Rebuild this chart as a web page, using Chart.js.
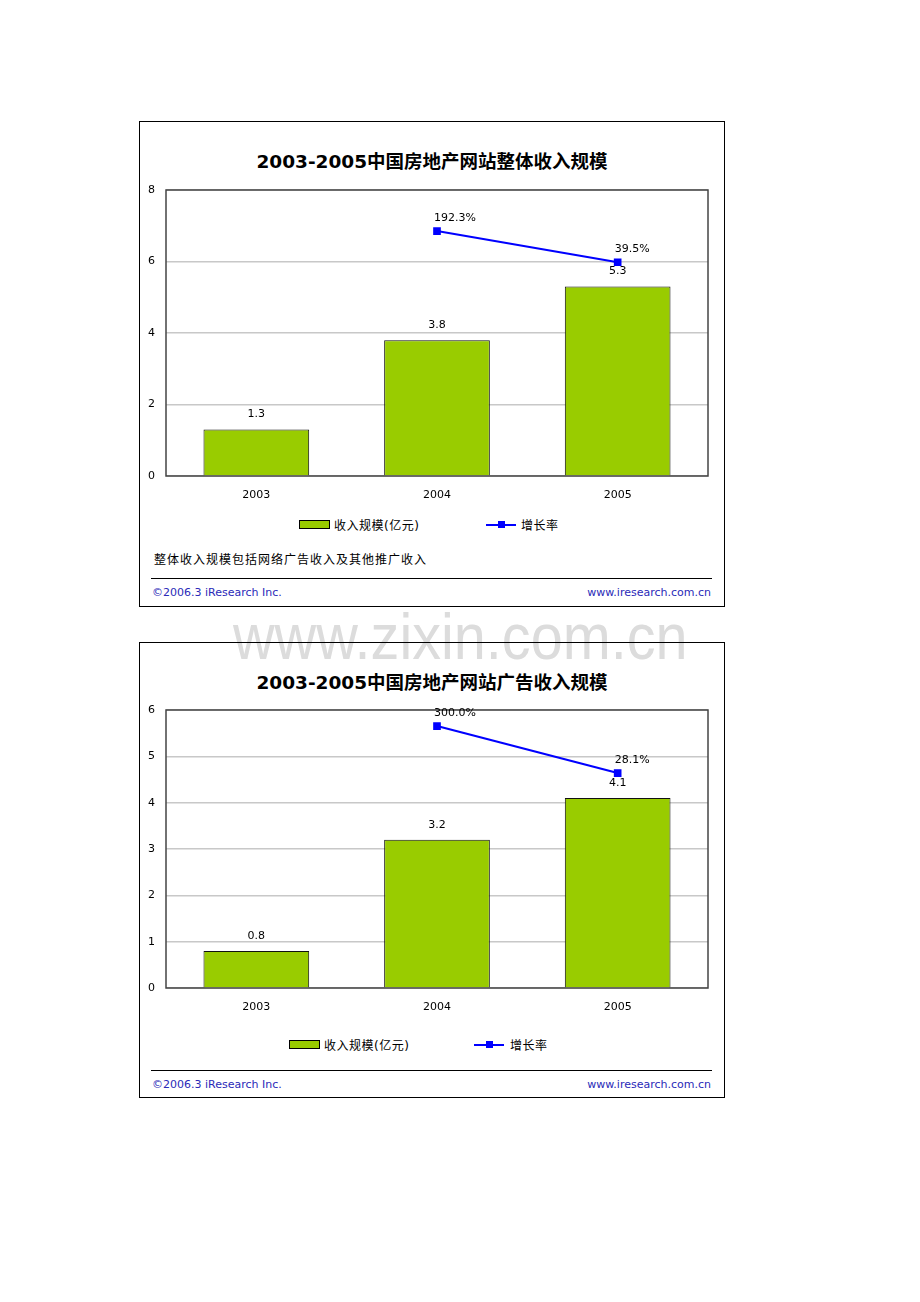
<!DOCTYPE html>
<html>
<head>
<meta charset="utf-8">
<script src="https://cdn.jsdelivr.net/npm/chart.js@4.4.1/dist/chart.umd.min.js"></script>
<style>
  body { margin: 0; background: #fff; width: 920px; height: 1302px; position: relative; overflow: hidden;
         font-family: "DejaVu Sans", "Noto Sans CJK SC", sans-serif; }
  .frame { position: absolute; left: 139px; width: 584px; border: 1px solid #000; z-index: 1; }
  .title { position: absolute; left: 0; width: 100%; text-align: center; font-weight: bold; font-size: 18.5px;
           color: #000; }
  canvas { position: absolute; }
  .lg { position: absolute; font-size: 12px; color: #000; letter-spacing: 0.5px; }
  .lgbox { position: absolute; width: 29px; height: 7px; background: #99cc00; border: 1px solid #000; }
  .lgline { position: absolute; width: 30px; height: 2px; background: #0000ff; }
  .lgline i { position: absolute; left: 12px; top: -3px; width: 7px; height: 7px; background: #0000ff; }
  .note { position: absolute; font-size: 12px; letter-spacing: 1px; }
  .rule { position: absolute; left: 11px; width: 561px; height: 1px; background: #000; }
  .foot { position: absolute; font-size: 11px; color: #2a2ab8; }
  .wm { position: absolute; left: 233px; top: 600px; font-family: "Liberation Sans", sans-serif; font-size: 64px;
        color: #dcdcdc; transform: scaleX(0.9); transform-origin: left top; z-index: 0; white-space: nowrap; }
</style>
</head>
<body>
<div class="wm">www.zixin.com.cn</div>

<div class="frame" style="top:121px;height:484px;">
  <div class="title" style="top:25px;">2003-2005中国房地产网站整体收入规模</div>
  <div class="lgbox" style="left:159px;top:398px;"></div>
  <div class="lg" style="left:194px;top:394px;">收入规模(亿元)</div>
  <div class="lgline" style="left:346px;top:402px;"><i></i></div>
  <div class="lg" style="left:381px;top:394px;">增长率</div>
  <div class="note" style="left:14px;top:428px;">整体收入规模包括网络广告收入及其他推广收入</div>
  <div class="rule" style="top:456px;"></div>
  <div class="foot" style="left:12px;top:464px;">©2006.3 iResearch Inc.</div>
  <div class="foot" style="right:13px;top:464px;">www.iresearch.com.cn</div>
</div>

<div class="frame" style="top:642px;height:454px;">
  <div class="title" style="top:25px;">2003-2005中国房地产网站广告收入规模</div>
  <div class="lgbox" style="left:149px;top:397px;"></div>
  <div class="lg" style="left:184px;top:393px;">收入规模(亿元)</div>
  <div class="lgline" style="left:334px;top:401px;"><i></i></div>
  <div class="lg" style="left:370px;top:393px;">增长率</div>
  <div class="rule" style="top:427px;"></div>
  <div class="foot" style="left:12px;top:435px;">©2006.3 iResearch Inc.</div>
  <div class="foot" style="right:13px;top:435px;">www.iresearch.com.cn</div>
</div>

<canvas id="chart1" width="582" height="330" style="left:140px;top:180px;z-index:2;"></canvas>
<canvas id="chart2" width="582" height="322" style="left:140px;top:700px;z-index:2;"></canvas>

<script>
// data
const years = ['2003', '2004', '2005'];
const totalRevenue = [1.3, 3.8, 5.3];
const totalGrowth = [null, 192.3, 39.5];
const adRevenue = [0.8, 3.2, 4.1];
const adGrowth = [null, 300.0, 28.1];

// draws the plot border and the value labels
const labelPlugin = {
    id: 'labels',
    beforeDatasetsDraw(chart) {
        const a = chart.chartArea;
        const ctx = chart.ctx;
        ctx.save();
        ctx.strokeStyle = '#444';
        ctx.lineWidth = 1.5;
        ctx.strokeRect(a.left, a.top, a.right - a.left, a.bottom - a.top);
        ctx.restore();
    },
    afterDatasetsDraw(chart) {
        const ctx = chart.ctx;
        ctx.save();
        ctx.font = '11px "DejaVu Sans"';
        ctx.fillStyle = '#000';
        ctx.textBaseline = 'middle';
        ctx.textAlign = 'center';
        chart.getDatasetMeta(0).data.forEach((el, i) => {
            ctx.fillText(chart.data.datasets[0].data[i].toFixed(1), el.x, el.y - 15);
        });
        ctx.textAlign = 'left';
        chart.getDatasetMeta(1).data.forEach((el, i) => {
            const v = chart.data.datasets[1].data[i];
            if (v == null) return;
            ctx.fillText(v.toFixed(1) + '%', el.x - 3, el.y - 13);
        });
        ctx.restore();
    }
};

function makeChart(id, revenue, growth, yMax, yStep, rateMin, rateMax, xHeight) {
    const ctx = document.getElementById(id).getContext('2d');
    return new Chart(ctx, {
        type: 'bar',
        data: {
            labels: years,
            datasets: [{
                type: 'bar',
                label: '收入规模(亿元)',
                data: revenue,
                backgroundColor: '#99cc00',
                borderColor: '#111',
                borderWidth: 1,
                barPercentage: 0.585,
                categoryPercentage: 1,
                yAxisID: 'y',
                order: 2
            }, {
                type: 'line',
                label: '增长率',
                data: growth,
                borderColor: '#0000ff',
                backgroundColor: '#0000ff',
                borderWidth: 2,
                pointStyle: 'rect',
                pointRadius: 4,
                fill: false,
                yAxisID: 'y2',
                order: 1
            }]
        },
        options: {
            responsive: false,
            animation: false,
            layout: { padding: { left: 8, right: 14, top: 10, bottom: 0 } },
            plugins: { legend: { display: false }, tooltip: { enabled: false } },
            scales: {
                x: {
                    grid: { display: false, drawTicks: false },
                    border: { display: false },
                    ticks: { color: '#000', font: { family: 'DejaVu Sans', size: 11 }, padding: 13 },
                    afterFit: s => { s.height = xHeight; }
                },
                y: {
                    min: 0,
                    max: yMax,
                    ticks: { stepSize: yStep, color: '#000', font: { family: 'DejaVu Sans', size: 11 }, crossAlign: 'far' },
                    grid: { color: '#c8c8c8', lineWidth: 1.5, drawTicks: false },
                    border: { display: false },
                    afterFit: s => { s.width = 18; }
                },
                y2: {
                    display: false,
                    min: rateMin,
                    max: rateMax
                }
            }
        },
        plugins: [labelPlugin]
    });
}

makeChart('chart1', totalRevenue, totalGrowth, 8, 2, -1010, 394, 34);
makeChart('chart2', adRevenue, adGrowth, 6, 1, -1216, 393, 34);
</script>
</body>
</html>
